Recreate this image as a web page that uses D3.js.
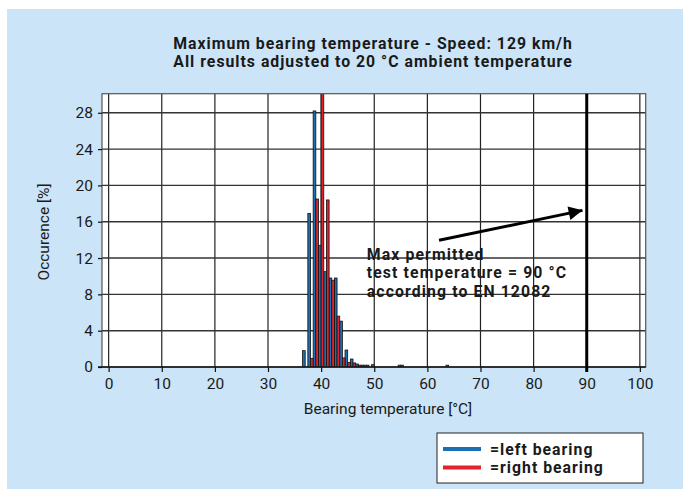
<!DOCTYPE html>
<html lang="en">
  <head>
    <meta charset="utf-8">
    <style>
      body { margin: 0; background: #ffffff; }
      text { font-family: Roboto, "Open Sans", sans-serif; fill: #1a1a1a; }
      .tick text { font-size: 15.5px; }
      .bold { font-weight: bold; }
    </style>
  </head>
  <body>
    <script src="https://cdn.jsdelivr.net/npm/d3@7"></script>
    <script>
      // histogram bins (°C) and share of results (%) for each bearing
      var temps = [37, 38, 39, 40, 41, 42, 43, 44, 45, 46, 47, 48, 49, 50, 55, 64];
      var leftBearing = [1.8, 16.9, 28.2, 13.4, 10.5, 9.8, 9.8, 5.05, 1.87, 0.88, 0.33, 0.2, 0.2, 0.25, 0.2, 0.2];
      var rightBearing = [0, 0.95, 18.5, 43, 18.4, 9.56, 5.6, 1.0, 0.5, 0.45, 0.2, 0.2, 0, 0, 0.2, 0];
      var xTicks = [0, 10, 20, 30, 40, 50, 60, 70, 80, 90, 100];
      var yTicks = [0, 4, 8, 12, 16, 20, 24, 28];
      var maxPermitted = 90;
      var arrowFrom = [62.2, 13.95];
      var arrowTo = [89.2, 17.25];
      var titleLines = ["Maximum bearing temperature - Speed: 129 km/h",
                        "All results adjusted to 20 °C ambient temperature"];
      var noteLines = ["Max permitted", "test temperature = 90 °C", "according to EN 12082"];
      var noteAt = [48.6, 11.8];
      var seriesNames = ["=left bearing", "=right bearing"];
      var colors = ["#1b6fb3", "#e3232c"];

      var W = 683, H = 489;
      var plot = {left: 102, right: 645.7, top: 93.7, bottom: 367};

      var x = d3.scaleLinear().domain([-1.25, 101.1]).range([plot.left, plot.right]);
      var y = d3.scaleLinear().domain([0, 30.1]).range([plot.bottom, plot.top]);

      var svg = d3.select("body").append("svg")
        .attr("width", W)
        .attr("height", H);

      // light blue panel
      svg.append("rect")
        .attr("x", 7).attr("y", 9)
        .attr("width", W - 7).attr("height", H - 9)
        .attr("fill", "#cbe4f7");

      // two-line title
      titleLines.forEach(function(line, i) {
        svg.append("text").attr("class", "bold")
          .attr("x", 373).attr("y", 48.5 + i * 18.5)
          .attr("text-anchor", "middle")
          .style("font-size", "15.8px")
          .style("letter-spacing", "1px")
          .text(line);
      });

      // plot area
      svg.append("rect")
        .attr("x", plot.left).attr("y", plot.top)
        .attr("width", plot.right - plot.left)
        .attr("height", plot.bottom - plot.top)
        .attr("fill", "#ffffff");

      svg.append("clipPath").attr("id", "clip")
        .append("rect")
        .attr("x", plot.left).attr("y", plot.top)
        .attr("width", plot.right - plot.left)
        .attr("height", plot.bottom - plot.top);

      // grid
      svg.selectAll(".vgrid")
        .data(xTicks)
        .enter().append("line")
        .attr("x1", function(d) { return x(d); })
        .attr("x2", function(d) { return x(d); })
        .attr("y1", plot.top).attr("y2", plot.bottom)
        .attr("stroke", "#222").attr("stroke-width", 1.2);
      svg.selectAll(".hgrid")
        .data(yTicks.slice(1))
        .enter().append("line")
        .attr("x1", plot.left).attr("x2", plot.right)
        .attr("y1", function(d) { return y(d); })
        .attr("y2", function(d) { return y(d); })
        .attr("stroke", "#333").attr("stroke-width", 1.4);

      // bars: left bearing takes the lower half of each 1 °C bin, right bearing the upper half
      var bars = svg.append("g").attr("clip-path", "url(#clip)");
      [leftBearing, rightBearing].forEach(function(series, s) {
        bars.selectAll(".bar" + s)
          .data(temps.map(function(t, i) { return {t: t, v: series[i]}; })
                .filter(function(d) { return d.v > 0; }))
          .enter().append("rect")
          .attr("x", function(d) { return x(d.t - 0.5 + 0.5 * s); })
          .attr("width", x(0.5) - x(0))
          .attr("y", function(d) { return y(d.v); })
          .attr("height", function(d) { return y(0) - y(d.v); })
          .attr("fill", colors[s])
          .attr("stroke", "#111")
          .attr("stroke-width", 0.8);
      });

      // frame
      svg.append("rect")
        .attr("x", plot.left).attr("y", plot.top)
        .attr("width", plot.right - plot.left)
        .attr("height", plot.bottom - plot.top)
        .attr("fill", "none")
        .attr("stroke", "#555").attr("stroke-width", 1.2);

      // axes
      var yAxis = svg.append("g")
        .attr("transform", "translate(" + plot.left + ",0)")
        .call(d3.axisLeft(y).tickValues(yTicks).tickSize(4).tickPadding(5));
      var xAxis = svg.append("g")
        .attr("transform", "translate(0," + plot.bottom + ")")
        .call(d3.axisBottom(x).tickValues(xTicks).tickSize(5).tickPadding(6));
      yAxis.select(".domain").remove();
      xAxis.select(".domain").remove();
      svg.selectAll(".tick line").attr("stroke", "#111").attr("stroke-width", 1.2);
      svg.selectAll(".tick text").style("font-family", "Roboto, sans-serif").attr("fill", "#1a1a1a");

      svg.append("line")
        .attr("x1", plot.left - 4).attr("x2", plot.right)
        .attr("y1", plot.bottom).attr("y2", plot.bottom)
        .attr("stroke", "#111").attr("stroke-width", 1.5);

      // max permitted temperature line
      svg.append("line")
        .attr("x1", x(maxPermitted)).attr("x2", x(maxPermitted))
        .attr("y1", plot.top).attr("y2", plot.bottom + 5)
        .attr("stroke", "#000").attr("stroke-width", 3);

      // arrow
      svg.append("defs").append("marker")
        .attr("id", "head")
        .attr("viewBox", "0 0 10 10")
        .attr("refX", 10).attr("refY", 5)
        .attr("markerWidth", 7).attr("markerHeight", 4.6)
        .attr("markerUnits", "strokeWidth")
        .attr("orient", "auto")
        .append("path")
        .attr("d", "M0,0 L10,5 L0,10 z")
        .attr("fill", "#000");
      svg.append("line")
        .attr("x1", x(arrowFrom[0])).attr("y1", y(arrowFrom[1]))
        .attr("x2", x(arrowTo[0])).attr("y2", y(arrowTo[1]))
        .attr("stroke", "#000").attr("stroke-width", 3)
        .attr("marker-end", "url(#head)");

      noteLines.forEach(function(line, i) {
        svg.append("text").attr("class", "bold")
          .attr("x", x(noteAt[0])).attr("y", y(noteAt[1]) + i * 18.5)
          .style("font-size", "15.8px")
          .style("letter-spacing", "1.1px")
          .text(line);
      });

      // axis titles
      svg.append("text")
        .attr("x", 388).attr("y", 414)
        .attr("text-anchor", "middle")
        .style("font-size", "15.5px")
        .text("Bearing temperature [°C]");
      svg.append("text")
        .attr("transform", "translate(49,232) rotate(-90)")
        .attr("text-anchor", "middle")
        .style("font-size", "15.5px")
        .text("Occurence [%]");

      // legend
      var legend = svg.append("g").attr("transform", "translate(437,433)");
      legend.append("rect")
        .attr("width", 206).attr("height", 50)
        .attr("fill", "#ffffff")
        .attr("stroke", "#222").attr("stroke-width", 1);
      seriesNames.forEach(function(name, i) {
        legend.append("line")
          .attr("x1", 6).attr("x2", 44)
          .attr("y1", 16 + i * 18.5).attr("y2", 16 + i * 18.5)
          .attr("stroke", colors[i]).attr("stroke-width", 4);
        legend.append("text").attr("class", "bold")
          .attr("x", 53).attr("y", 21.5 + i * 18.5)
          .style("font-size", "15.8px")
          .style("letter-spacing", "1px")
          .text(name);
      });
    </script>
  </body>
</html>
